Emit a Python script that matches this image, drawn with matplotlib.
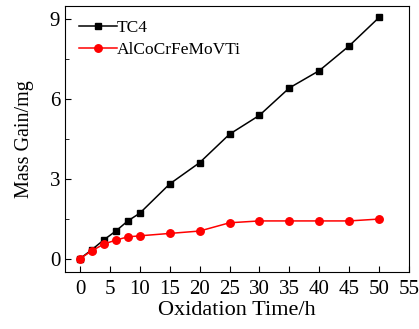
import numpy as np
import matplotlib.pyplot as plt
from matplotlib.ticker import MultipleLocator

plt.rcParams['font.family'] = ['Liberation Serif', 'DejaVu Serif']

# Oxidation time (h) and mass gain (mg)
time_h = [0, 2, 4, 6, 8, 10, 15, 20, 25, 30, 35, 40, 45, 50]
tc4 = [0, 0.34, 0.71, 1.04, 1.42, 1.71, 2.81, 3.61, 4.68, 5.39, 6.42, 7.07, 8.0, 9.07]
hea = [0, 0.30, 0.55, 0.70, 0.82, 0.86, 0.95, 1.04, 1.35, 1.42, 1.42, 1.42, 1.42, 1.49]

fig = plt.figure(figsize=(4.19, 3.29), dpi=100)
ax = fig.add_axes([65 / 419, 1 - 272 / 329, 344 / 419, 266 / 329])

ax.plot(time_h, tc4, color="black", marker="s", markersize=5, lw=1.1, label="TC4")
ax.plot(time_h, hea, color="red", marker="o", markersize=5.4, lw=1.1, label="AlCoCrFeMoVTi")

ax.set_xlim(-2.5, 55)
ax.set_ylim(-0.5, 9.5)
ax.xaxis.set_major_locator(MultipleLocator(5))
ax.yaxis.set_major_locator(MultipleLocator(3))
ax.yaxis.set_minor_locator(MultipleLocator(1.5))
ax.tick_params(axis="both", which="both", direction="in", labelsize=15)
ax.tick_params(which="major", length=4)
ax.tick_params(which="minor", length=3)
ax.tick_params(axis="x", pad=6)
ax.set_xlabel("Oxidation Time/h", fontsize=16, labelpad=1)
ax.set_ylabel("Mass Gain/mg", fontsize=14.5, labelpad=11)

ax.legend(loc="upper left", frameon=False, fontsize=12.5, handlelength=2.2,
          handletextpad=0.0, borderaxespad=0.4, labelspacing=0.35)

fig.savefig("out.png", dpi=100)
